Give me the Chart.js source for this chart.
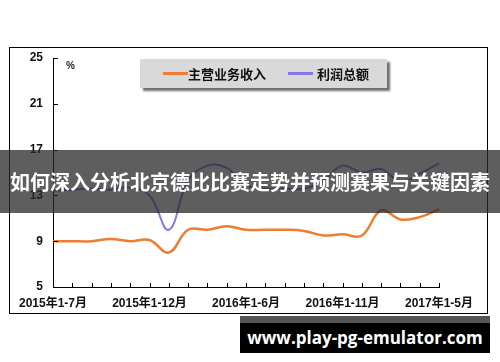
<!DOCTYPE html>
<html>
<head>
<meta charset="utf-8">
<script src="https://cdn.jsdelivr.net/npm/chart.js@4.4.1/dist/chart.umd.min.js"></script>
<style>
  html, body { margin: 0; padding: 0; background: #fff; }
  #wrap { position: relative; width: 500px; height: 362px; overflow: hidden; background: #fff; font-family: "Liberation Sans", "Noto Sans CJK SC", sans-serif; }
  #c { position: absolute; left: 0; top: 0; }
  #frame { position: absolute; left: 9px; top: 47px; width: 477px; height: 265px; border: 1px solid #000; pointer-events: none; }
  #pct { position: absolute; left: 66px; top: 60px; font-size: 10px; font-weight: bold; color: #222; }
  #legend { position: absolute; left: 140px; top: 59px; width: 247px; height: 29px; background: #d9d9d9; box-shadow: 3px 3px 2px #6e6e6e; }
  .li { position: absolute; top: 0; height: 29px; line-height: 29px; font-size: 13px; font-weight: bold; color: #111; font-family: "Noto Sans CJK SC", sans-serif; }
  .sw { position: absolute; top: 13px; width: 25px; height: 3px; }
  #banner { position: absolute; left: 0; top: 150px; width: 500px; height: 63px; background: rgba(40,40,40,0.75); color: #fff; font-family: "Noto Sans CJK SC", sans-serif; font-weight: bold; font-size: 20px; line-height: 63px; text-align: center; white-space: nowrap; letter-spacing: 0px; }
  #wm { position: absolute; left: 240px; top: 316px; width: 250px; height: 37px; background: #000; border-top: 7px solid #555; box-sizing: border-box; color: #fff; font-family: "Open Sans", sans-serif; font-weight: bold; font-size: 17px; line-height: 30px; text-align: center; white-space: nowrap; }
</style>
</head>
<body>
<div id="wrap">
  <canvas id="c" width="500" height="362"></canvas>
  <div id="frame"></div>
  <div id="pct">%</div>
  <div id="legend"></div>
  <div id="banner">如何深入分析北京德比比赛走势并预测赛果与关键因素</div>
  <div id="wm">www.play-pg-emulator.com</div>
</div>
<script>
// ---- data ----
const categories = [
  "2015年1-7月","2015年1-8月","2015年1-9月","2015年1-10月","2015年1-11月","2015年1-12月",
  "2016年1-2月","2016年1-3月","2016年1-4月","2016年1-5月","2016年1-6月","2016年1-7月",
  "2016年1-8月","2016年1-9月","2016年1-10月","2016年1-11月","2016年1-12月",
  "2017年1-2月","2017年1-3月","2017年1-4月","2017年1-5月"
];
const labeledCategories = ["2015年1-7月","2015年1-12月","2016年1-6月","2016年1-11月","2017年1-5月"];
const seriesNames = ["主营业务收入", "利润总额"];
const revenueGrowth = [9.0, 9.0, 9.0, 9.2, 9.0, 9.1, 8.0, 10.0, 10.0, 10.3, 10.0, 10.0, 10.0, 9.9, 9.5, 9.6, 9.5, 11.7, 10.9, 11.1, 11.8];
const profitGrowth  = [13.4, 13.5, 13.6, 13.5, 13.7, 13.0, 10.0, 14.3, 15.6, 15.4, 13.9, 13.6, 13.6, 13.6, 14.3, 15.6, 15.0, 15.3, 14.2, 14.9, 15.8];
const yTicks = [5, 9, 13, 17, 21, 25];
const seriesColors = ["#EE7D31", "#8C73E6"];

// ---- HTML legend ----
const legend = document.getElementById('legend');
const legendPos = [[23, 48], [148, 177]];
seriesNames.forEach((n, i) => {
  const sw = document.createElement('div');
  sw.className = 'sw';
  sw.style.left = legendPos[i][0] + 'px';
  sw.style.background = seriesColors[i];
  legend.appendChild(sw);
  const t = document.createElement('div');
  t.className = 'li';
  t.style.left = legendPos[i][1] + 'px';
  t.textContent = n;
  legend.appendChild(t);
});

// ---- inward tick marks ----
const inwardTicks = {
  id: 'inwardTicks',
  afterDatasetsDraw(chart) {
    const ctx = chart.ctx, x = chart.scales.x, y = chart.scales.y;
    ctx.save();
    ctx.strokeStyle = '#000';
    ctx.lineWidth = 1;
    ctx.beginPath();
    x.ticks.forEach((t, i) => {
      const px = Math.round(x.getPixelForTick(i)) + 0.5;
      ctx.moveTo(px, y.bottom);
      ctx.lineTo(px, y.bottom - 4);
    });
    y.ticks.forEach((t, i) => {
      const py = Math.round(y.getPixelForTick(i)) + 0.5;
      ctx.moveTo(x.left, py);
      ctx.lineTo(x.left + 5, py);
    });
    ctx.stroke();
    ctx.restore();
  }
};

new Chart(document.getElementById('c'), {
  type: 'line',
  data: {
    labels: categories,
    datasets: [
      { label: seriesNames[0], data: revenueGrowth, borderColor: seriesColors[0], borderWidth: 2.5, pointRadius: 0, tension: 0.4, fill: false },
      { label: seriesNames[1], data: profitGrowth, borderColor: seriesColors[1], borderWidth: 2, pointRadius: 0, tension: 0.4, fill: false }
    ]
  },
  options: {
    responsive: false,
    animation: false,
    events: [],
    layout: { padding: { left: 10, right: 61, top: 58, bottom: 50 } },
    plugins: { legend: { display: false }, tooltip: { enabled: false } },
    scales: {
      x: {
        offset: false,
        grid: { display: false, drawTicks: false },
        border: { display: true, color: '#000', width: 1 },
        afterFit(s) { s.height = 25; },
        ticks: {
          autoSkip: false, maxRotation: 0, minRotation: 0, padding: 9,
          color: '#111',
          font: { family: "'Liberation Sans', 'Noto Sans CJK SC', sans-serif", size: 12, weight: 'bold' },
          callback(v, i) { const l = categories[i]; return labeledCategories.includes(l) ? l : ''; }
        }
      },
      y: {
        min: 5, max: 25,
        afterBuildTicks(s) { s.ticks = yTicks.map(v => ({ value: v })); },
        afterFit(s) { s.width = 43; },
        grid: { display: false, drawTicks: false },
        border: { display: true, color: '#000', width: 1 },
        ticks: {
          padding: 10, color: '#111',
          font: { family: "'Liberation Sans', sans-serif", size: 12, weight: 'bold' }
        }
      }
    }
  },
  plugins: [inwardTicks]
});
</script>
</body>
</html>
